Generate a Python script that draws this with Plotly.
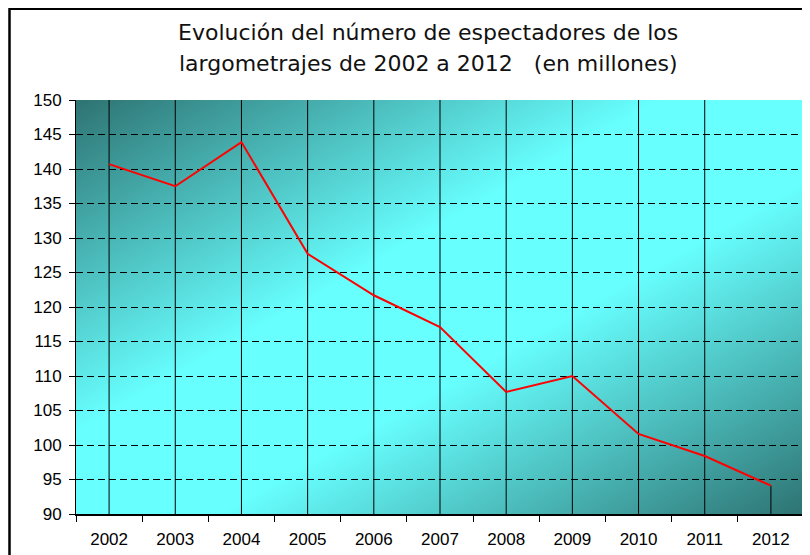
import base64
import struct
import zlib

import numpy as np
import plotly.graph_objects as go

# ---- data ----
years = ["2002", "2003", "2004", "2005", "2006", "2007", "2008", "2009", "2010", "2011", "2012"]
spectators = [140.7, 137.5, 143.9, 127.7, 121.7, 117.1, 107.7, 110.0, 101.6, 98.4, 94.1]
y_ticks = [90, 95, 100, 105, 110, 115, 120, 125, 130, 135, 140, 145, 150]
title_lines = ["Evolución del número de espectadores de los",
               "largometrajes de 2002 a 2012   (en millones)"]

Y_MIN, Y_MAX = 90, 150

# ---- geometry (page body adds an 8px offset) ----
W, H = 810, 555
OFF = 8
L, T = 76 - OFF, 100 - OFF
R = W - (804 - OFF)
B = H - (514 - OFF)
PW, PH = W - L - R, H - T - B


# ---- diagonal gradient background (style only) ----
def gradient_png(w, h):
    u = np.linspace(0, 1, w)[None, :]
    v = np.linspace(0, 1, h)[:, None]
    t = np.abs(u + v - 1.0)
    f = np.clip((t - 0.2) / 0.8, 0, 1)[..., None]
    cyan = np.array([104, 255, 255], dtype=float)
    dark = np.array([46, 116, 115], dtype=float)
    img = (cyan * (1 - f) + dark * f).astype(np.uint8)
    raw = b"".join(b"\x00" + img[r].tobytes() for r in range(h))

    def chunk(tag, data):
        c = struct.pack(">I", len(data)) + tag + data
        return c + struct.pack(">I", zlib.crc32(tag + data) & 0xFFFFFFFF)

    png = b"\x89PNG\r\n\x1a\n"
    png += chunk(b"IHDR", struct.pack(">IIBBBBB", w, h, 8, 2, 0, 0, 0))
    png += chunk(b"IDAT", zlib.compress(raw, 9))
    png += chunk(b"IEND", b"")
    return "data:image/png;base64," + base64.b64encode(png).decode()


# vertical drop/grid lines at each category (last one only to its value)
vx, vy = [], []
for i, (yr, val) in enumerate(zip(years, spectators)):
    top = Y_MAX if i < len(years) - 1 else val
    vx += [yr, yr, None]
    vy += [Y_MIN, top, None]

fig = go.Figure()
fig.add_trace(go.Scatter(x=vx, y=vy, mode="lines", line=dict(color="black", width=1),
                         hoverinfo="skip", showlegend=False))
fig.add_trace(go.Scatter(x=years, y=spectators, mode="lines",
                         line=dict(color="#ff0000", width=2), showlegend=False))

fig.update_layout(
    width=W, height=H,
    margin=dict(l=L, r=R, t=T, b=B),
    paper_bgcolor="white",
    plot_bgcolor="rgba(0,0,0,0)",
    images=[dict(source=gradient_png(PW, PH), xref="paper", yref="paper",
                 x=0, y=1, sizex=1, sizey=1, sizing="stretch", layer="below")],
    font=dict(family="Liberation Sans, Arial, sans-serif", color="black", size=17),
)

fig.update_xaxes(
    type="category", categoryorder="array", categoryarray=years,
    range=[-0.5, len(years) - 0.5],
    showgrid=False, showline=True, linecolor="black", linewidth=1.5,
    ticks="outside", tickson="boundaries", ticklen=6, tickcolor="black", tickwidth=1,
    ticklabelstandoff=9, tickfont=dict(size=17), fixedrange=True,
)
fig.update_yaxes(
    range=[Y_MIN, Y_MAX], tickvals=y_ticks, ticktext=[str(v) for v in y_ticks],
    showgrid=True, gridcolor="black", gridwidth=1, griddash="7px,4px",
    showline=True, linecolor="black", linewidth=1,
    ticks="outside", ticklen=6, tickcolor="black", tickwidth=1,
    ticklabelstandoff=4, tickfont=dict(size=17), zeroline=False, fixedrange=True,
)

# title (two lines)
for k, line in enumerate(title_lines):
    fig.add_annotation(
        text=line, xref="paper", yref="paper",
        x=(428 - OFF - L) / PW, y=1 + (T - (33 - OFF + 30 * k)) / PH,
        xanchor="center", yanchor="middle", showarrow=False,
        font=dict(family="DejaVu Sans, Verdana, sans-serif", size=22, color="#111111"),
    )

# chart-area border
fig.add_shape(type="rect", xref="paper", yref="paper",
              x0=(1.5 - L) / PW, x1=1.2, y0=-0.3, y1=1 + (T - 0.8) / PH,
              line=dict(color="black", width=2.5), layer="above")

fig.write_html("out.html")
